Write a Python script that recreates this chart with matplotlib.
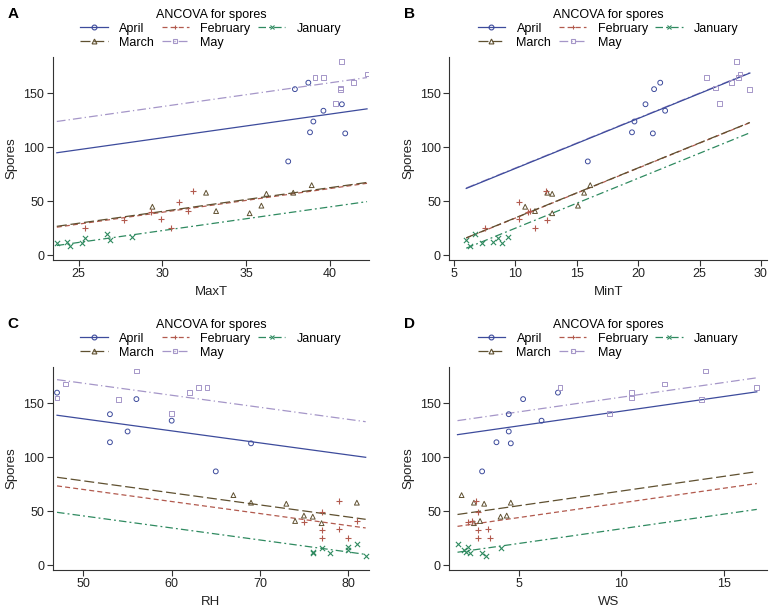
import numpy as np
import matplotlib
matplotlib.use('Agg')
import matplotlib.pyplot as plt
from matplotlib.lines import Line2D

plt.rcParams['font.family'] = ['Liberation Sans', 'DejaVu Sans']

months = ['April', 'March', 'February', 'May', 'January']

# spore counts per month (same observations in every panel)
spores_april = [87, 113, 114, 124, 134, 140, 154, 160]
spores_may = [141, 154, 155, 160, 165, 165, 168, 180]
spores_march = [39, 41, 45, 46, 57, 58, 58, 65]
spores_february = [25, 25, 33, 34, 40, 41, 49, 60]
spores_january = [9, 11, 11, 12, 14, 16, 17, 20]

# covariate values, same order as the spore lists
maxt_april = [37.5, 40.9, 38.8, 39.0, 39.6, 40.7, 37.9, 38.7]
maxt_may = [40.3, 40.6, 40.6, 41.4, 39.1, 39.6, 42.2, 40.7]
maxt_march = [35.2, 33.2, 29.4, 35.9, 36.2, 32.6, 37.8, 38.9]
maxt_february = [25.4, 30.5, 27.7, 29.9, 29.3, 31.5, 31.0, 31.8]
maxt_january = [24.5, 23.7, 25.2, 24.3, 26.9, 25.4, 28.2, 26.7]

mint_april = [15.9, 21.2, 19.5, 19.7, 22.2, 20.6, 21.3, 21.8]
mint_may = [26.6, 29.1, 26.3, 27.6, 25.6, 28.2, 28.3, 28.0]
mint_march = [13.0, 11.6, 10.8, 15.1, 13.0, 12.6, 15.6, 16.1]
mint_february = [7.5, 11.6, 12.6, 10.3, 11.0, 11.2, 10.3, 12.5]
mint_january = [6.3, 8.9, 7.3, 8.2, 6.0, 8.6, 9.4, 6.7]

rh_april = [65, 69, 53, 55, 60, 53, 56, 47]
rh_may = [60, 54, 47, 62, 63, 64, 48, 56]
rh_march = [77, 74, 76, 75, 73, 69, 81, 67]
rh_february = [77, 80, 77, 79, 75, 81, 77, 79]
rh_january = [82, 76, 78, 76, 80, 77, 80, 81]

ws_april = [3.2, 4.6, 3.9, 4.5, 6.1, 4.5, 5.2, 6.9]
ws_may = [9.4, 13.9, 10.5, 10.5, 7.0, 16.6, 12.1, 14.1]
ws_march = [2.8, 3.1, 4.1, 4.4, 3.3, 2.8, 4.6, 2.2]
ws_february = [3.0, 3.6, 3.0, 3.5, 2.5, 2.7, 3.0, 2.9]
ws_january = [3.4, 3.2, 2.6, 2.4, 2.3, 4.1, 2.5, 2.0]

# ANCOVA fits: common slope, intercepts in order April, March, February, May, January
slopes = [2.2, 4.63, -1.114, 2.72]
intercepts_maxt = [42.9, -25.3, -26.1, 71.9, -43.1]
intercepts_mint = [34.2, -11.6, -11.8, 34.6, -21.2]
intercepts_rh = [191.4, 133.9, 125.9, 224.4, 101.4]
intercepts_ws = [115.6, 41.6, 30.6, 128.6, 6.6]

spores = [spores_april, spores_march, spores_february, spores_may, spores_january]
panels = [
    ('A', 'MaxT', [maxt_april, maxt_march, maxt_february, maxt_may, maxt_january],
     intercepts_maxt, (23.45, 42.33), [25, 30, 35, 40]),
    ('B', 'MinT', [mint_april, mint_march, mint_february, mint_may, mint_january],
     intercepts_mint, (4.62, 30.5), [5, 10, 15, 20, 25, 30]),
    ('C', 'RH', [rh_april, rh_march, rh_february, rh_may, rh_january],
     intercepts_rh, (46.5, 82.4), [50, 60, 70, 80]),
    ('D', 'WS', [ws_april, ws_march, ws_february, ws_may, ws_january],
     intercepts_ws, (1.6, 17.1), [5, 10, 15]),
]

colors = ['#3d4b9c', '#5f5030', '#b25a4e', '#a596c8', '#2f8a60']
markers = ['o', '^', '+', 's', 'x']
dashes = [None, (8, 3), (4, 2.5), (7, 2.5, 1, 2.5), (6, 2.5, 1.5, 2.5)]
line_z = [2.5, 2.2, 2.1, 2.0, 2.0]

positions = [
    [0.068, 0.5765, 0.409, 0.331],
    [0.5805, 0.5765, 0.4105, 0.331],
    [0.068, 0.0717, 0.409, 0.331],
    [0.5805, 0.0717, 0.4105, 0.331],
]

fig = plt.figure(figsize=(7.74, 6.14), dpi=100)

for k, (lab, xname, xs, icpts, xlim, xticks) in enumerate(panels):
    ax = fig.add_axes(positions[k])
    allx = np.concatenate([np.array(x, dtype=float) for x in xs])
    xl = np.array([allx.min(), allx.max()])
    # fitted lines
    for i in range(5):
        ln, = ax.plot(xl, icpts[i] + slopes[k] * xl, color=colors[i], lw=0.9,
                      zorder=line_z[i])
        if dashes[i] is not None:
            ln.set_dashes(dashes[i])
    # observations
    for i in range(5):
        if markers[i] in ('+', 'x'):
            ax.scatter(xs[i], spores[i], marker=markers[i], s=14, color=colors[i],
                       linewidths=0.8, zorder=3)
        else:
            ax.scatter(xs[i], spores[i], marker=markers[i], s=12, facecolors='none',
                       edgecolors=colors[i], linewidths=0.7, zorder=3)
    ax.set_xlim(xlim)
    ax.set_ylim(-4.4, 184)
    ax.set_xticks(xticks)
    ax.set_yticks([0, 50, 100, 150])
    ax.spines['top'].set_visible(False)
    ax.spines['right'].set_visible(False)
    for s in ('left', 'bottom'):
        ax.spines[s].set_linewidth(0.8)
        ax.spines[s].set_color('#333333')
    ax.tick_params(direction='out', length=4, width=0.8, labelsize=9, color='#333333',
                   labelcolor='#222222', pad=2)
    ax.set_xlabel(xname, fontsize=9.5, color='#222222', labelpad=4)
    ax.set_ylabel('Spores', fontsize=9.5, color='#222222', labelpad=4)

    handles = []
    for i in range(5):
        h = Line2D([0], [0], color=colors[i], lw=0.9, marker=markers[i], markersize=3.5,
                   markerfacecolor='none' if markers[i] in ('o', '^', 's') else colors[i],
                   markeredgecolor=colors[i], markeredgewidth=0.8)
        if dashes[i] is not None:
            h.set_dashes(dashes[i])
        handles.append(h)
    ax.legend(handles, months, loc='lower center', bbox_to_anchor=(0.5, 1.04),
              ncol=3, frameon=False, fontsize=9, title='ANCOVA for spores',
              title_fontsize=9, handlelength=2.2, handletextpad=0.9,
              columnspacing=0.6, labelspacing=0.15, borderpad=0.0, numpoints=1,
              borderaxespad=0.0)
    fig.text(positions[k][0] - 0.058, positions[k][1] + positions[k][3] + 0.058, lab,
             fontsize=11, fontweight='bold', ha='left', va='bottom')

plt.savefig('out.png', dpi=100)
plt.close()
